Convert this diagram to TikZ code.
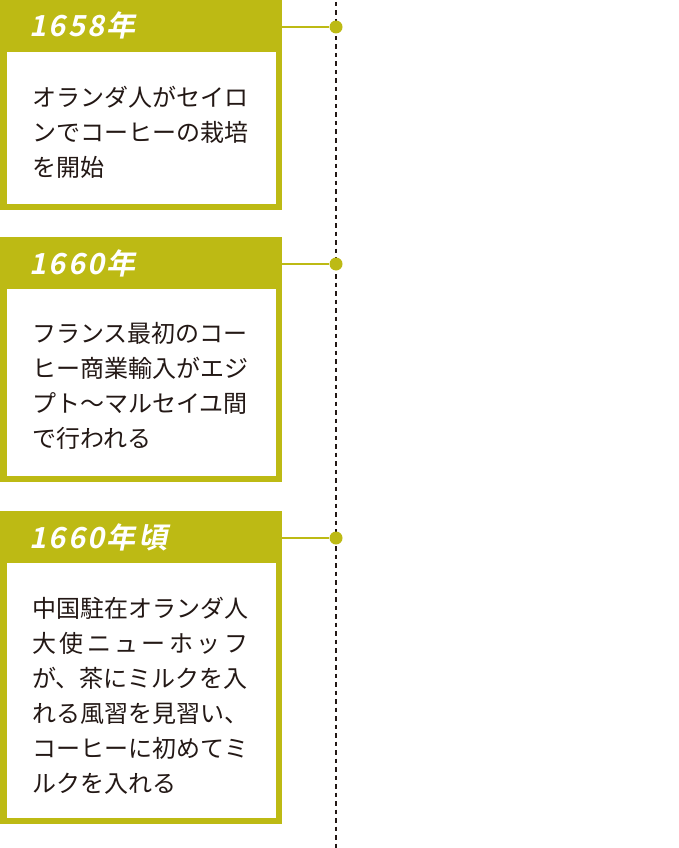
\documentclass[tikz,border=0pt]{standalone}
\usepackage{fontspec}
\newfontfamily\jp{Noto Sans CJK JP}
\newfontfamily\yearfont[FakeSlant=0.2,LetterSpace=8]{Noto Sans CJK JP Bold}
\definecolor{olive}{HTML}{BDBA14}
\definecolor{ink}{HTML}{231815}
\tikzset{
  panel/.style={fill=olive, inner sep=0pt, minimum width=282pt, anchor=north west},
  yearlabel/.style={anchor=base west, inner sep=0pt, text=white, font=\yearfont\fontsize{29pt}{29pt}\selectfont},
  bodytext/.style={anchor=base west, inner sep=0pt, text=ink, font=\jp\fontsize{24pt}{35pt}\selectfont},
  dotnode/.style={circle, fill=olive, minimum size=13pt, inner sep=0pt},
  link/.style={draw=olive, line width=2pt},
  timeline/.style={draw=ink, line width=2.4pt, dash pattern=on 4.5pt off 4pt}
}
\newcommand{\bodylines}[1]{\parbox[t]{230pt}{\baselineskip=35pt #1}}
\begin{document}
\begin{tikzpicture}[x=1pt,y=-1pt]
\useasboundingbox (0,0) rectangle (678,848);
% timeline
\coordinate (ltop) at (336,2);
\coordinate (lbot) at (336,848);
\draw[timeline] (ltop) -- (lbot);

% box 1
\node[panel, minimum height=210pt] (b1) at (0,0) {};
\fill[white] (7,52) rectangle (276,204);
\node[yearlabel] (y1) at (29,37) {1658年};
\node[bodytext] (t1) at (32,107) {\bodylines{オランダ人がセイロ\\ンでコーヒーの栽培\\を開始}};
\node[dotnode] (d1) at (336,27) {};
\draw[link] (b1.east |- d1) -- (d1);

% box 2
\node[panel, minimum height=245pt] (b2) at (0,237) {};
\fill[white] (7,289) rectangle (276,476);
\node[yearlabel] (y2) at (29,274) {1660年};
\node[bodytext] (t2) at (32,342) {\bodylines{フランス最初のコー\\ヒー商業輸入がエジ\\プト〜マルセイユ間\\で行われる}};
\node[dotnode] (d2) at (336,264) {};
\draw[link] (b2.east |- d2) -- (d2);

% box 3
\node[panel, minimum height=313pt] (b3) at (0,511) {};
\fill[white] (7,563) rectangle (276,818);
\node[yearlabel] (y3) at (29,548) {1660年頃};
\node[bodytext] (t3) at (32,617) {\bodylines{中国駐在オランダ人\\\makebox[216pt][l]{大\hfill 使\hfill ニ\hfill ュ\hfill ー\hfill ホ\hfill ッ\hfill フ}\\が、茶にミルクを入\\れる風習を見習い、\\コーヒーに初めてミ\\ルクを入れる}};
\node[dotnode] (d3) at (336,538) {};
\draw[link] (b3.east |- d3) -- (d3);
\end{tikzpicture}
\end{document}
